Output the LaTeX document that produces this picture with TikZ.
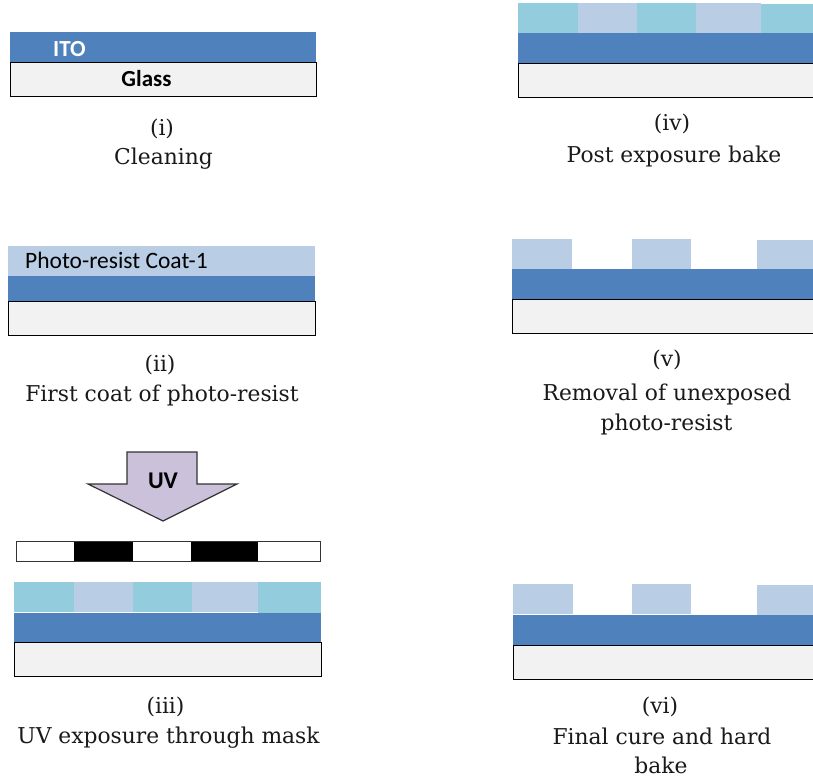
\documentclass[tikz,border=0pt]{standalone}
\usepackage{fontspec}
\setmainfont{DejaVu Serif}
\newfontfamily\calib{Carlito}
\definecolor{ito}{HTML}{4F81BD}
\definecolor{resA}{HTML}{B9CDE5}
\definecolor{resB}{HTML}{93CDDD}
\definecolor{glass}{HTML}{F2F2F2}
\definecolor{uvc}{HTML}{CCC1DA}
\tikzset{
  itol/.style={fill=ito, draw=none},
  resl/.style={fill=resA, draw=none},
  exl/.style={fill=resB, draw=none},
  glassl/.style={fill=glass, draw=black, line width=0.9pt},
  captxt/.style={font=\fontsize{21.8}{26}\selectfont, inner sep=0pt, anchor=base, text=black!90},
  sanslab/.style={font=\calib\fontsize{23.5}{27}\selectfont, inner sep=0pt},
  sansbold/.style={font=\calib\bfseries\fontsize{23}{27}\selectfont, inner sep=0pt}
}
\begin{document}
\begin{tikzpicture}[x=1pt,y=-1pt]
\useasboundingbox (0,0) rectangle (813,783);
\clip (0,0) rectangle (813,783);
% (i)
\fill[itol] (10,32) rectangle (316,62);
\draw[glassl] (10,62) rectangle (316,96);
\node[sansbold, text=white, anchor=base west] (ito) at (53,57) {ITO};
\node[sansbold, anchor=base] (glass) at (146.5,87) {Glass};
\node[captxt] (c1a) at (162,136) {(i)};
\node[captxt] (c1b) at (163.5,165) {Cleaning};
% (ii)
\fill[resl] (8,246) rectangle (315,276);
\fill[itol] (8,276) rectangle (315,301);
\draw[glassl] (8,301) rectangle (315,335);
\node[sanslab, anchor=base west] (pr) at (25,269) {Photo-resist Coat-1};
\node[captxt] (c2a) at (160,371) {(ii)};
\node[captxt] (c2b) at (162,401) {First coat of photo-resist};
% (iii)
\draw[fill=uvc, draw=black!80, line width=1.2pt, line join=miter]
  (127,452) -- (197,452) -- (197,484) -- (237,484) -- (163,521) -- (88,484) -- (127,484) -- cycle;
\node[sansbold, font=\calib\bfseries\fontsize{24}{28}\selectfont, anchor=base] (uv) at (163,488) {UV};
\fill[white] (16,541) rectangle (320,561);
\fill[black] (74,541) rectangle (133,561);
\fill[black] (191,541) rectangle (258,561);
\draw[draw=black!80, line width=0.9pt] (16,541) rectangle (320,561);
\fill[exl] (14,582) rectangle (74,612);
\fill[resl] (74,582) rectangle (133,612);
\fill[exl] (133,582) rectangle (192,612);
\fill[resl] (192,582) rectangle (258,612);
\fill[exl] (258,582) rectangle (321,613);
\fill[itol] (14,613) rectangle (321,642);
\draw[glassl] (14,642) rectangle (321,676);
\node[captxt] (c3a) at (165.5,713) {(iii)};
\node[captxt] (c3b) at (168.5,743) {UV exposure through mask};
% (iv)
\fill[exl] (518,3) rectangle (578,33);
\fill[resl] (578,3) rectangle (637,33);
\fill[exl] (637,3) rectangle (696,33);
\fill[resl] (696,3) rectangle (761,33);
\fill[exl] (761,3.7) rectangle (814,34);
\fill[itol] (518,33) rectangle (814,63);
\draw[glassl] (518,63) rectangle (816,97);
\node[captxt] (c4a) at (672,131) {(iv)};
\node[captxt] (c4b) at (674,163) {Post exposure bake};
% (v)
\fill[resl] (512,239) rectangle (572,269);
\fill[resl] (632,239) rectangle (691,269);
\fill[resl] (757,240) rectangle (814,270);
\fill[itol] (512,269) rectangle (814,299);
\draw[glassl] (512,299) rectangle (816,333);
\node[captxt] (c5a) at (667,366) {(v)};
\node[captxt] (c5b) at (667,400) {Removal of unexposed};
\node[captxt] (c5c) at (666.5,430) {photo-resist};
% (vi)
\fill[resl] (513,584) rectangle (573,614);
\fill[resl] (632,584) rectangle (691,614);
\fill[resl] (757,585) rectangle (814,615);
\fill[itol] (513,615) rectangle (814,645);
\draw[glassl] (513,645) rectangle (816,679);
\node[captxt] (c6a) at (660,713) {(vi)};
\node[captxt] (c6b) at (662,744) {Final cure and hard};
\node[captxt] (c6c) at (661,773) {bake};
\end{tikzpicture}
\end{document}
